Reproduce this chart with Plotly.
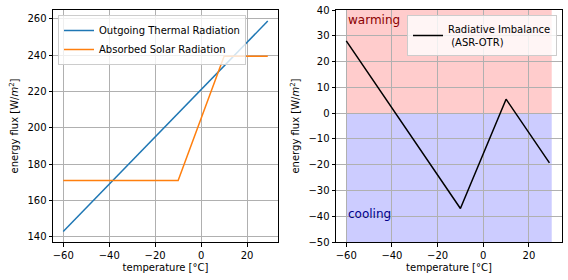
import plotly.graph_objects as go

# ---- data ----
temp_olr = [-60, 29]
olr = [143.0, 258.7]
temp_asr = [-60, -10, 10, 29]
asr = [171.0, 171.0, 239.4, 239.4]
temp_imb = [-60, -10, 10, 29]
imbalance = [28.0, -37.0, 5.4, -19.3]

x_ticks = [-60, -40, -20, 0, 20]
y1_ticks = [140, 160, 180, 200, 220, 240, 260]
y2_ticks = [-50, -40, -30, -20, -10, 0, 10, 20, 30, 40]

W, H = 568, 280
FONT = "DejaVu Sans"

fig = go.Figure()
fig.add_trace(go.Scatter(x=temp_olr, y=olr, mode="lines", name="Outgoing Thermal Radiation",
                         line=dict(color="#1f77b4", width=1.5), xaxis="x", yaxis="y", legend="legend"))
fig.add_trace(go.Scatter(x=temp_asr, y=asr, mode="lines", name="Absorbed Solar Radiation",
                         line=dict(color="#ff7f0e", width=1.5), xaxis="x", yaxis="y", legend="legend"))
fig.add_trace(go.Scatter(x=temp_imb, y=imbalance, mode="lines", name="Radiative Imbalance<br> (ASR-OTR)",
                         line=dict(color="black", width=1.5), xaxis="x2", yaxis="y2", legend="legend2"))

# shading
fig.add_shape(type="rect", xref="x2", yref="y2", x0=-60, x1=30, y0=0, y1=40,
              fillcolor="rgba(255,0,0,0.2)", line=dict(width=0), layer="below")
fig.add_shape(type="rect", xref="x2", yref="y2", x0=-60, x1=30, y0=-50, y1=0,
              fillcolor="rgba(0,0,255,0.2)", line=dict(width=0), layer="below")

fig.add_annotation(x=-60, y=36, xref="x2", yref="y2", text="warming", showarrow=False,
                   xanchor="left", yanchor="middle", font=dict(color="darkred", size=12, family=FONT))
fig.add_annotation(x=-60, y=-39, xref="x2", yref="y2", text="cooling", showarrow=False,
                   xanchor="left", yanchor="middle", font=dict(color="darkblue", size=12, family=FONT))

ax_common = dict(showline=True, linecolor="black", linewidth=1, mirror=True,
                 ticks="outside", ticklen=3.5, tickwidth=0.8, tickcolor="black",
                 showgrid=True, gridcolor="#b0b0b0", gridwidth=0.8, zeroline=False,
                 automargin=False,
                 tickfont=dict(size=10, family=FONT, color="black"))

ydom = [1 - 242 / H, 1 - 10 / H]
ytitle = dict(text="energy flux [W/<i>m</i><sup>2</sup>]", font=dict(size=10, family=FONT), standoff=6)
xtitle = dict(text="temperature [°C]", font=dict(size=10, family=FONT), standoff=4)

fig.update_layout(
    width=W, height=H, margin=dict(l=0, r=0, t=0, b=0, autoexpand=False),
    paper_bgcolor="white", plot_bgcolor="white",
    font=dict(family=FONT, size=10, color="black"),
    xaxis=dict(domain=[53 / W, 278 / W], range=[-64.45, 33.45], tickvals=x_ticks,
               ticktext=[str(v).replace("-", "\u2212") for v in x_ticks], anchor="y",
               title=xtitle, **ax_common),
    yaxis=dict(domain=ydom, range=[137.2, 264.8], tickvals=y1_ticks, anchor="x",
               title=ytitle, **ax_common),
    xaxis2=dict(domain=[336 / W, 562 / W], range=[-64.5, 34.5], tickvals=x_ticks,
                ticktext=[str(v).replace("-", "\u2212") for v in x_ticks], anchor="y2",
                title=xtitle, **ax_common),
    yaxis2=dict(domain=ydom, range=[-50, 40], tickvals=y2_ticks,
                ticktext=[str(v).replace("-", "\u2212") for v in y2_ticks], anchor="x2",
                title=ytitle, **ax_common),
    legend=dict(x=58 / W, y=1 - 15 / H, xanchor="left", yanchor="top",
                bgcolor="rgba(255,255,255,0.8)", bordercolor="#cccccc", borderwidth=1,
                font=dict(size=10, family=FONT), tracegroupgap=0),
    legend2=dict(x=557 / W, y=1 - 15 / H, xanchor="right", yanchor="top",
                 bgcolor="rgba(255,255,255,0.8)", bordercolor="#cccccc", borderwidth=1,
                 font=dict(size=10, family=FONT)),
    showlegend=True,
)

fig.write_html("out.html")
